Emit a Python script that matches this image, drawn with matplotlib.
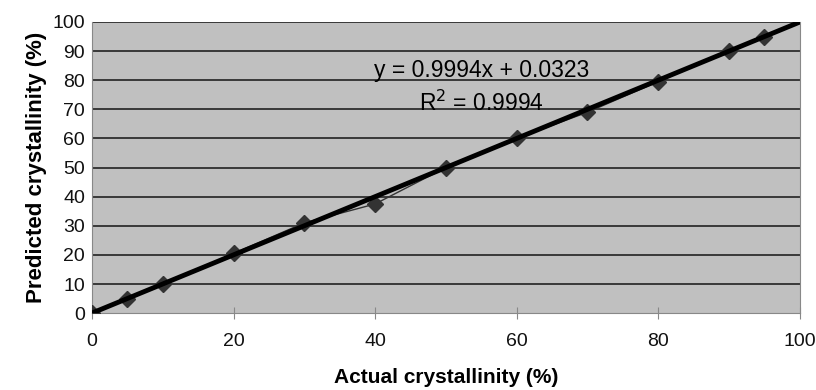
import matplotlib
matplotlib.use("Agg")
import matplotlib.pyplot as plt
import numpy as np

plt.rcParams['font.family'] = ['Liberation Sans', 'DejaVu Sans']

actual = [0, 5, 10, 20, 30, 40, 50, 60, 70, 80, 90, 95]
predicted = [0, 5, 10, 20.5, 31, 37.5, 50, 60, 69, 79.5, 90, 95]
slope = 0.9994
intercept = 0.0323
x_ticks = [0, 20, 40, 60, 80, 100]
y_ticks = [0, 10, 20, 30, 40, 50, 60, 70, 80, 90, 100]

fig = plt.figure(figsize=(8.16, 3.9), dpi=100)
ax = fig.add_axes([0.1127, 0.197, 0.8673, 0.7466])
ax.set_facecolor('#c0c0c0')

for y in y_ticks[1:]:
    ax.axhline(y, color='#222222', lw=1.2, zorder=1)

ax.plot(actual, predicted, color='#333333', lw=1.0, marker='D', ms=8,
        mfc='#333333', mec='#333333', zorder=3)
xs = np.array([0, 100])
ax.plot(xs, slope * xs + intercept, color='black', lw=3.5, zorder=4, solid_capstyle='round')

ax.set_xlim(0, 100)
ax.set_ylim(0, 100)
ax.set_xticks(x_ticks)
ax.set_yticks(y_ticks)
ax.tick_params(axis='x', direction='inout', length=8, width=0.8, color='#888888',
               labelsize=14, pad=10, labelcolor='#111111')
ax.tick_params(axis='y', length=0, labelsize=14, pad=5, labelcolor='#111111')
ax.spines['top'].set_visible(False)
ax.spines['left'].set_color('#888888')
ax.spines['right'].set_color('#888888')
ax.spines['bottom'].set_color('#888888')

ax.set_xlabel('Actual crystallinity (%)', fontsize=15, fontweight='bold', labelpad=13)
ax.set_ylabel('Predicted crystallinity (%)', fontsize=16, fontweight='bold', labelpad=4)

ax.text(55, 83.5, 'y = 0.9994x + 0.0323', fontsize=16.5, ha='center', va='center')
ax.text(55, 72, 'R$^2$ = 0.9994', fontsize=16.5, ha='center', va='center')

fig.savefig('out.png', dpi=100, facecolor='white')
